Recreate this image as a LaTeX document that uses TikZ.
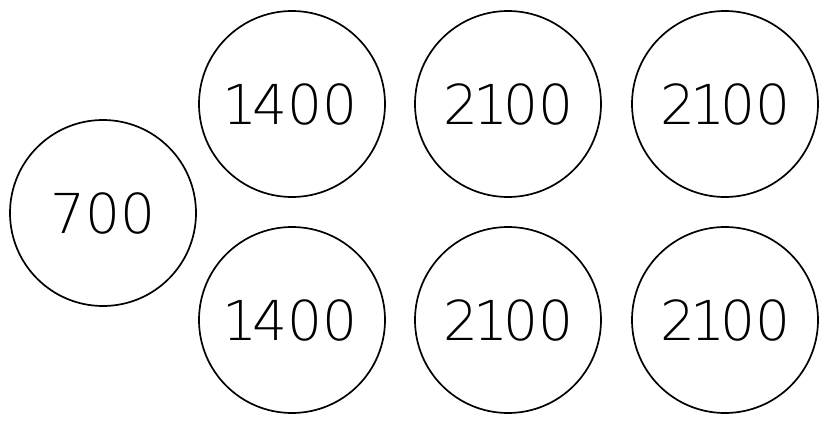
\documentclass[tikz,border=0pt]{standalone}
\usepackage{fontspec}
\newfontfamily\thinfont{DejaVu Sans ExtraLight}
\newcommand{\narrowone}{\kern-5pt 1\kern-5pt }
\begin{document}
\begin{tikzpicture}[x=1pt,y=-1pt,
  disc/.style={circle,draw,line width=1.7pt,minimum size=186pt,inner sep=0pt,
    font=\thinfont\fontsize{55}{55}\selectfont}]
\useasboundingbox (0,0) rectangle (831,423);
\node[disc] (a) at (103,213) {700};
\node[disc] (b) at (292,104) {\narrowone400};
\node[disc] (c) at (508,104) {2\narrowone00};
\node[disc] (d) at (725,104) {2\narrowone00};
\node[disc] (e) at (292,320) {\narrowone400};
\node[disc] (f) at (508,320) {2\narrowone00};
\node[disc] (g) at (725,320) {2\narrowone00};
\end{tikzpicture}
\end{document}
